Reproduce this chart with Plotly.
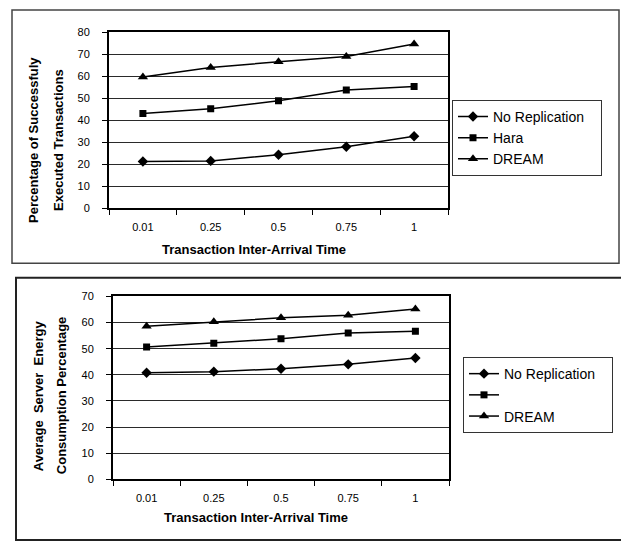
import plotly.graph_objects as go

W, H = 621, 542

categories = ["0.01", "0.25", "0.5", "0.75", "1"]

# Chart 1: Percentage of successfully executed transactions
top_norep = [21.3, 21.6, 24.4, 28.0, 32.8]
top_hara = [43.1, 45.3, 48.9, 53.8, 55.4]
top_dream = [59.7, 64.0, 66.7, 69.1, 74.7]

# Chart 2: Average server energy consumption percentage
bot_norep = [40.8, 41.2, 42.3, 44.0, 46.4]
bot_hara = [50.6, 52.1, 53.8, 56.0, 56.7]
bot_dream = [58.6, 60.3, 61.8, 62.8, 65.2]

names_top = ["No Replication\u00a0\u00a0\u00a0", "Hara", "DREAM"]
names_bot = ["No Replication\u00a0\u00a0\u00a0", " ", "DREAM"]
symbols = ["diamond", "square", "triangle-up"]
sizes = [8, 7, 9]

FONT = "Liberation Sans, Arial, sans-serif"


def px(x):
    return x / W


def py(y):
    return 1 - y / H


fig = go.Figure()

for name, vals, sym, sz in zip(names_top, [top_norep, top_hara, top_dream], symbols, sizes):
    fig.add_trace(go.Scatter(
        x=categories, y=vals, name=name, mode="lines+markers",
        line=dict(color="black", width=1.5),
        marker=dict(symbol=sym, size=sz, color="black"),
        xaxis="x", yaxis="y", legend="legend",
    ))

for name, vals, sym, sz in zip(names_bot, [bot_norep, bot_hara, bot_dream], symbols, sizes):
    fig.add_trace(go.Scatter(
        x=categories, y=vals, name=name, mode="lines+markers",
        line=dict(color="black", width=1.5),
        marker=dict(symbol=sym, size=sz, color="black"),
        xaxis="x2", yaxis="y2", legend="legend2",
    ))

xcommon = dict(
    type="category", tickson="boundaries", ticks="outside", ticklen=5,
    tickcolor="black", showline=True, linecolor="black", linewidth=1.5,
    mirror=True, showgrid=False, tickfont=dict(size=11, color="black", family=FONT),
    ticklabelstandoff=8, range=[-0.5, 4.5],
)
ycommon = dict(
    ticks="outside", ticklen=5, tickcolor="black", showline=True,
    linecolor="black", linewidth=2, mirror=True, showgrid=True,
    gridcolor="#2a2a2a", gridwidth=1, zeroline=False, dtick=10,
    tickfont=dict(size=11, color="black", family=FONT), ticklabelstandoff=10,
)

legend_font = dict(size=14, family=FONT, color="black")

fig.update_layout(
    width=W, height=H, autosize=False,
    margin=dict(l=0, r=0, t=0, b=0),
    paper_bgcolor="white", plot_bgcolor="white",
    font=dict(family=FONT, color="black"),
    xaxis=dict(domain=[px(109), px(448)], anchor="y", **xcommon),
    yaxis=dict(domain=[py(207), py(27)], anchor="x", range=[0, 80], **ycommon),
    xaxis2=dict(domain=[px(113), px(449)], anchor="y2", **xcommon),
    yaxis2=dict(domain=[py(484), py(297)], anchor="x2", range=[0, 70], **ycommon),
    legend=dict(
        x=px(452), y=py(96), xanchor="left", yanchor="top",
        bordercolor="#333", borderwidth=1, bgcolor="white",
        font=legend_font, tracegroupgap=0,
    ),
    legend2=dict(
        x=px(463), y=py(359), xanchor="left", yanchor="top",
        bordercolor="#333", borderwidth=1, bgcolor="white",
        font=legend_font, tracegroupgap=0,
    ),
    showlegend=True,
)

# outer frames
fig.add_shape(type="rect", xref="paper", yref="paper",
              x0=px(12), x1=px(619), y0=py(263), y1=py(4),
              line=dict(color="#444", width=1.5), layer="below")
fig.add_shape(type="rect", xref="paper", yref="paper",
              x0=px(16), x1=px(625), y0=py(546), y1=py(278),
              line=dict(color="#222", width=2), layer="below")

title_font = dict(size=13, family=FONT, color="black")
ann = [
    dict(text="<b>Percentage of Successfuly</b>", x=px(34), y=py(137), textangle=-90),
    dict(text="<b>Executed Transactions</b>", x=px(59), y=py(137), textangle=-90),
    dict(text="<b>Transaction Inter-Arrival Time</b>", x=px(254), y=py(249), textangle=0),
    dict(text="<b>Average  Server  Energy</b>", x=px(38), y=py(399), textangle=-90),
    dict(text="<b>Consumption Percentage</b>", x=px(61), y=py(399), textangle=-90),
    dict(text="<b>Transaction Inter-Arrival Time</b>", x=px(256), y=py(523), textangle=0),
]
for a in ann:
    fig.add_annotation(xref="paper", yref="paper", showarrow=False,
                       xanchor="center", yanchor="middle", font=title_font, **a)

fig.write_html("out.html")
